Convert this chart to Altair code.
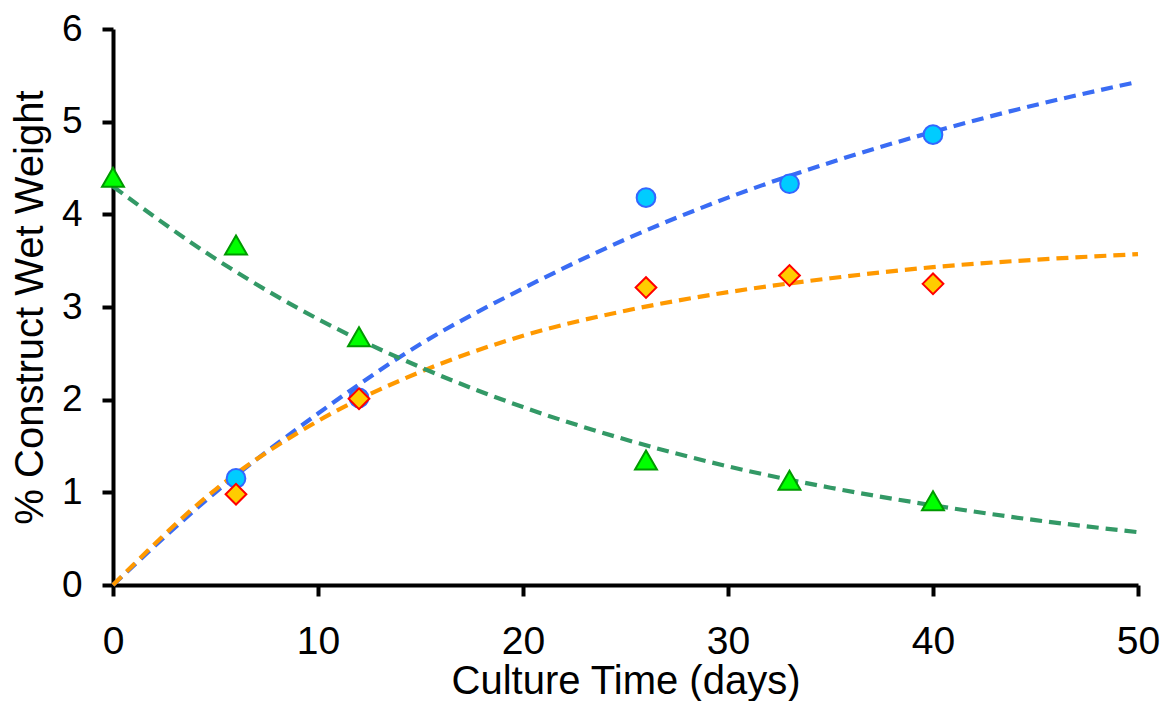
import altair as alt
import pandas as pd

# observed data
obs_days = [6, 12, 26, 33, 40]
circle_vals = [1.15, 2.02, 4.18, 4.33, 4.86]
diamond_vals = [0.98, 2.01, 3.21, 3.34, 3.25]
tri_days = [0, 6, 12, 26, 33, 40]
tri_vals = [4.40, 3.67, 2.68, 1.35, 1.13, 0.91]

# fitted curves
fit_days = [0, 5, 10, 15, 20, 25, 30, 35, 40, 45, 50]
fit_blue = [0.0, 1.0, 1.85, 2.6, 3.2, 3.73, 4.18, 4.56, 4.89, 5.18, 5.43]
fit_orange = [0.0, 1.03, 1.77, 2.3, 2.69, 2.96, 3.16, 3.31, 3.43, 3.51, 3.57]
fit_green = [4.3, 3.52, 2.87, 2.35, 1.92, 1.57, 1.28, 1.05, 0.86, 0.70, 0.57]

x_ticks = [0, 10, 20, 30, 40, 50]
y_ticks = [0, 1, 2, 3, 4, 5, 6]

series = ["circle", "diamond", "triangle"]
line_colors = ["#3A6CF4", "#FF9900", "#339966"]
fills = ["#00CCFF", "#FFCC00", "#00FF00"]
strokes = ["#3366FF", "#FF0000", "#009900"]
shapes = ["circle", "diamond", "triangle-up"]

rows = []
for d, v in zip(obs_days, circle_vals):
    rows.append({"day": d, "val": v, "s": "circle"})
for d, v in zip(obs_days, diamond_vals):
    rows.append({"day": d, "val": v, "s": "diamond"})
for d, v in zip(tri_days, tri_vals):
    rows.append({"day": d, "val": v, "s": "triangle"})
pts = pd.DataFrame(rows)

frows = []
for name, arr in zip(series, [fit_blue, fit_orange, fit_green]):
    for d, v in zip(fit_days, arr):
        frows.append({"day": d, "val": v, "s": name})
fits = pd.DataFrame(frows)

FONT = "Liberation Sans"

x_enc = alt.X("day:Q", scale=alt.Scale(domain=[0, 50], nice=False),
              axis=alt.Axis(values=x_ticks, title="Culture Time (days)", format="d"))
y_enc = alt.Y("val:Q", scale=alt.Scale(domain=[0, 6], nice=False),
              axis=alt.Axis(values=y_ticks, title="% Construct Wet Weight", format="d"))

lines = alt.Chart(fits).mark_line(strokeDash=[12, 7], strokeWidth=4.2, interpolate="monotone").encode(
    x=x_enc, y=y_enc,
    color=alt.Color("s:N", scale=alt.Scale(domain=series, range=line_colors), legend=None),
)

pts_layers = []
sizes = [350, 430, 480]
for name, f, st, sh, sz in zip(series, fills, strokes, shapes, sizes):
    pts_layers.append(
        alt.Chart(pts[pts.s == name]).mark_point(
            shape=sh, filled=True, fill=f, stroke=st, strokeWidth=2, size=sz, opacity=1
        ).encode(x=x_enc, y=y_enc)
    )

chart = alt.layer(lines, *pts_layers).properties(
    width=1025, height=556,
    autosize=alt.AutoSizeParams(type="none"),
    padding={"left": 105, "top": 21, "right": 23, "bottom": 116},
).configure_view(stroke=None).configure_axis(
    grid=False,
    domainColor="black", domainWidth=4,
    tickColor="black", tickWidth=4, tickSize=11,
    labelFont=FONT, labelColor="black", labelFlush=False,
    titleFont=FONT, titleFontSize=40, titleColor="black", titleFontWeight="normal",
    zindex=0,
).configure_axisX(
    labelFontSize=39, labelPadding=26, titlePadding=0,
).configure_axisY(
    labelFontSize=37, labelPadding=20, titlePadding=11,
)

chart.save("out.html", embed_options={"renderer": "svg", "actions": False})
